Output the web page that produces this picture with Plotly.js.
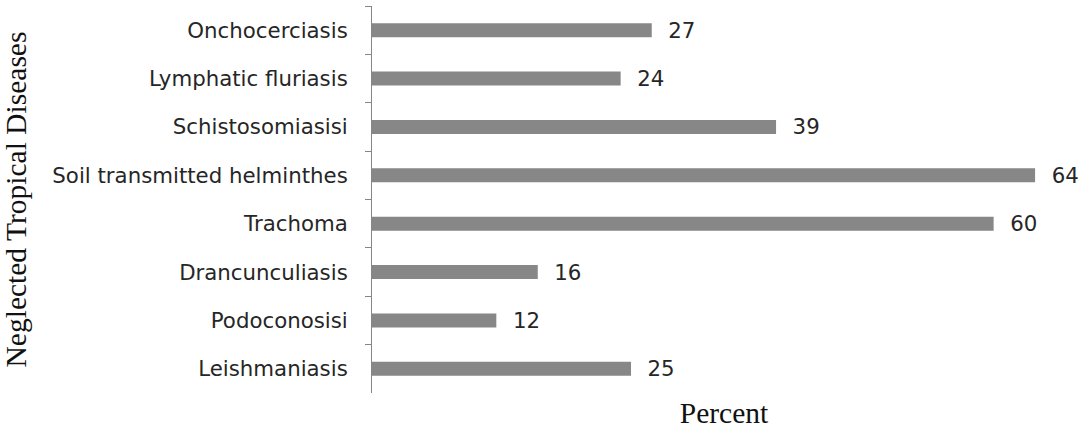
<!DOCTYPE html>
<html>
<head>
<meta charset="utf-8">
<script src="https://cdn.plot.ly/plotly-3.0.1.min.js"></script>
<style>html,body{margin:0;padding:0;background:#fff;}#chart{width:1083px;height:430px;}</style>
</head>
<body>
<div id="chart"></div>
<script>
var diseases = ["Onchocerciasis", "Lymphatic fluriasis", "Schistosomiasisi", "Soil transmitted helminthes", "Trachoma", "Drancunculiasis", "Podoconosisi", "Leishmaniasis"];
var percent = [27, 24, 39, 64, 60, 16, 12, 25];

var labelFont = {family: "DejaVu Sans, sans-serif", size: 21.3, color: "#262626"};

var trace = {
  type: "bar",
  orientation: "h",
  y: diseases,
  x: percent,
  marker: {color: "#878787"},
  text: percent.map(String),
  texttemplate: "\u00a0\u00a0%{text}",
  textposition: "outside",
  constraintext: "none",
  cliponaxis: false,
  textfont: labelFont,
  outsidetextfont: labelFont,
  hoverinfo: "none"
};

var layout = {
  width: 1083,
  height: 430,
  margin: {l: 372, r: 7, t: 6, b: 37},
  paper_bgcolor: "#fff",
  plot_bgcolor: "#fff",
  showlegend: false,
  bargap: 0.71,
  xaxis: {
    range: [0, 67.95],
    showgrid: false,
    zeroline: false,
    showline: false,
    showticklabels: false,
    ticks: "",
    title: {text: "Percent", font: {family: "Liberation Serif, Times New Roman, serif", size: 29.5, color: "#111"}, standoff: 9}
  },
  yaxis: {
    type: "category",
    autorange: "reversed",
    showgrid: false,
    zeroline: false,
    showline: true,
    linecolor: "#868686",
    linewidth: 1,
    ticks: "outside",
    tickson: "boundaries",
    ticklen: 6,
    tickcolor: "#868686",
    ticklabelstandoff: 19,
    tickfont: labelFont,
    title: {text: "Neglected Tropical Diseases", font: {family: "Liberation Serif, Times New Roman, serif", size: 29.5, color: "#111"}, standoff: 18}
  }
};

Plotly.newPlot("chart", [trace], layout, {displayModeBar: false, staticPlot: true});
</script>
</body>
</html>
